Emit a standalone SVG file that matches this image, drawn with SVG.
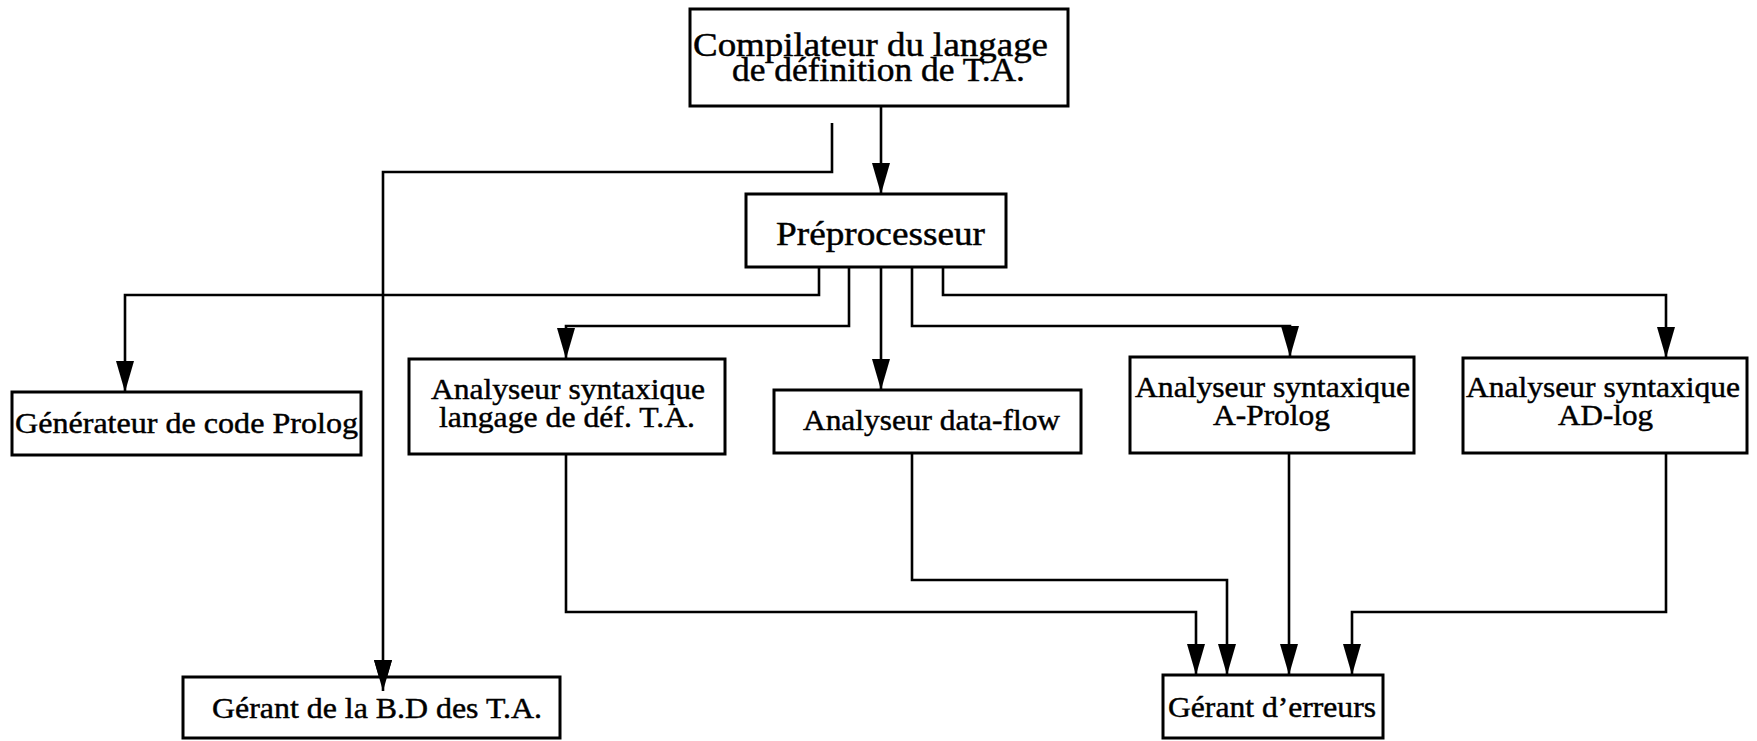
<svg xmlns="http://www.w3.org/2000/svg" width="1757" height="741" viewBox="0 0 1757 741">
<style>
.box{fill:#fff;stroke:#000;stroke-width:3}
.t{font-family:"Liberation Serif","Times New Roman",serif;font-size:30px;fill:#000;stroke:#000;stroke-width:0.45}
.big{font-size:33px}
.c{fill:none;stroke:#000;stroke-width:2.6}
</style>
<defs>
<marker id="arr" markerUnits="userSpaceOnUse" markerWidth="34" markerHeight="22" refX="31" refY="10" orient="auto">
<path d="M0,1 L31,10 L0,19 z" fill="#000"/>
</marker>
</defs>
<rect width="1757" height="741" fill="#fff"/>
<g id="connectors">
<path class="c" d="M881,106 V194" marker-end="url(#arr)"/>
<path class="c" d="M832,123 V172 H383 V691" marker-end="url(#arr)"/>
<path class="c" d="M819,267 V295 H125 V392" marker-end="url(#arr)"/>
<path class="c" d="M849,267 V326 H566 V359" marker-end="url(#arr)"/>
<path class="c" d="M881,267 V390" marker-end="url(#arr)"/>
<path class="c" d="M912,267 V326 H1290 V357" marker-end="url(#arr)"/>
<path class="c" d="M943,267 V295 H1666 V358" marker-end="url(#arr)"/>
<path class="c" d="M566,454 V612 H1196 V675" marker-end="url(#arr)"/>
<path class="c" d="M912,453 V580 H1227 V675" marker-end="url(#arr)"/>
<path class="c" d="M1289,453 V675" marker-end="url(#arr)"/>
<path class="c" d="M1666,453 V612 H1352 V675" marker-end="url(#arr)"/>
</g>
<g id="compilateur">
<rect class="box" x="690" y="9" width="378" height="97"/>
<text class="t big" x="693" y="56" textLength="355" lengthAdjust="spacingAndGlyphs">Compilateur du langage</text>
<text class="t big" x="732" y="81" textLength="293" lengthAdjust="spacingAndGlyphs">de définition de T.A.</text>
</g>
<g id="preprocesseur">
<rect class="box" x="746" y="194" width="260" height="73"/>
<text class="t big" x="776" y="245" textLength="209" lengthAdjust="spacingAndGlyphs">Préprocesseur</text>
</g>
<g id="generateur">
<rect class="box" x="12" y="392" width="349" height="63"/>
<text class="t" x="15" y="433" textLength="343" lengthAdjust="spacingAndGlyphs">Générateur de code Prolog</text>
</g>
<g id="analyseur-def">
<rect class="box" x="409" y="359" width="316" height="95"/>
<text class="t" x="431" y="399" textLength="274" lengthAdjust="spacingAndGlyphs">Analyseur syntaxique</text>
<text class="t" x="439" y="427" textLength="256" lengthAdjust="spacingAndGlyphs">langage de déf. T.A.</text>
</g>
<g id="analyseur-dataflow">
<rect class="box" x="774" y="390" width="307" height="63"/>
<text class="t" x="803" y="430" textLength="257" lengthAdjust="spacingAndGlyphs">Analyseur data-flow</text>
</g>
<g id="analyseur-aprolog">
<rect class="box" x="1130" y="357" width="284" height="96"/>
<text class="t" x="1135" y="397" textLength="275" lengthAdjust="spacingAndGlyphs">Analyseur syntaxique</text>
<text class="t" x="1213" y="425" textLength="117" lengthAdjust="spacingAndGlyphs">A-Prolog</text>
</g>
<g id="analyseur-adlog">
<rect class="box" x="1463" y="358" width="284" height="95"/>
<text class="t" x="1466" y="397" textLength="274" lengthAdjust="spacingAndGlyphs">Analyseur syntaxique</text>
<text class="t" x="1558" y="425" textLength="95" lengthAdjust="spacingAndGlyphs">AD-log</text>
</g>
<g id="gerant-bd">
<rect class="box" x="183" y="677" width="377" height="61"/>
<text class="t" x="212" y="718" textLength="330" lengthAdjust="spacingAndGlyphs">Gérant de la B.D des T.A.</text>
</g>
<g id="gerant-erreurs">
<rect class="box" x="1163" y="675" width="220" height="63"/>
<text class="t" x="1168" y="717" textLength="208" lengthAdjust="spacingAndGlyphs">Gérant d’erreurs</text>
</g>
<path class="c" d="M383,661 V691" marker-end="url(#arr)"/>
</svg>
